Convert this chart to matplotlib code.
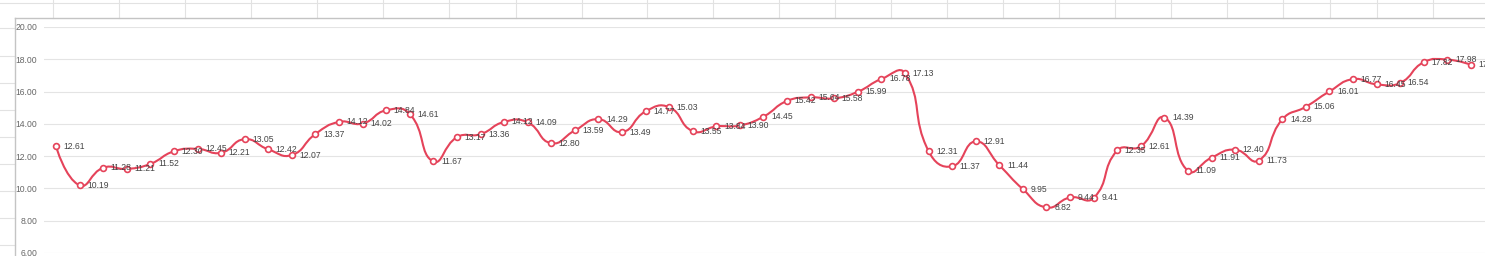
import numpy as np
import matplotlib
matplotlib.use("Agg")
import matplotlib.pyplot as plt
from matplotlib.path import Path
from matplotlib.patches import PathPatch
from matplotlib.lines import Line2D

# valores (o último ponto está cortado na borda direita)
valores = [12.61, 10.19, 11.28, 11.21, 11.52, 12.30, 12.45, 12.21, 13.05, 12.42,
           12.07, 13.37, 14.12, 14.02, 14.84, 14.61, 11.67, 13.17, 13.36, 14.12,
           14.09, 12.80, 13.59, 14.29, 13.49, 14.77, 15.03, 13.55, 13.84, 13.90,
           14.45, 15.42, 15.64, 15.58, 15.99, 16.78, 17.13, 12.31, 11.37, 12.91,
           11.44, 9.95, 8.82, 9.44, 9.41, 12.35, 12.61, 14.39, 11.09, 11.91,
           12.40, 11.73, 14.28, 15.06, 16.01, 16.77, 16.45, 16.54, 17.82, 17.98,
           17.66]
ticks_y = [6, 8, 10, 12, 14, 16, 18, 20]

W, H = 1485, 256
vermelho = "#e5435a"
plt.rcParams['font.family'] = ['Liberation Sans', 'DejaVu Sans']

fig = plt.figure(figsize=(W / 100, H / 100), dpi=100)
fig.patch.set_facecolor("white")

def px(x, y):
    # pixel (a partir do topo) -> fração da figura
    return x / W, 1 - y / H

# fundo de planilha
cinza = "#e2e2e2"
for xc in [53, 119, 185, 251, 317, 383, 449, 516, 582, 647, 713, 779, 835, 891,
           947, 1003, 1059, 1115, 1171, 1227, 1283, 1330, 1377, 1433]:
    x0, y0 = px(xc, 0)
    x1, y1 = px(xc, 18)
    fig.add_artist(Line2D([x0, x1], [y0, y1], color=cinza, lw=0.8))
fig.add_artist(Line2D([0, 1], [1 - 2.5 / H] * 2, color=cinza, lw=0.8))
for yr in [28, 56, 83, 110, 137, 164, 191, 218, 245]:
    fig.add_artist(Line2D([0, 15 / W], [1 - yr / H] * 2, color=cinza, lw=0.8))
# borda do gráfico
fig.add_artist(Line2D([15 / W, 1], [1 - 18 / H] * 2, color="#c4c4c4", lw=1.0))
fig.add_artist(Line2D([15 / W, 15 / W], [0, 1 - 18 / H], color="#c4c4c4", lw=1.0))

# área do gráfico
esq, topo, base = 44, 27, 253
ax = fig.add_axes([esq / W, 1 - base / H, (W - esq) / W, (base - topo) / H])
ax.set_facecolor("none")
n = len(valores)
passo = 23.58
ax.set_xlim(-12 / passo, (n - 1) + (W - 1471) / passo)
ax.set_ylim(6, 20)
for s in ax.spines.values():
    s.set_visible(False)
ax.set_xticks([])
ax.set_yticks(ticks_y)
ax.set_yticklabels(["%.2f" % t for t in ticks_y], fontsize=6.2, color="#666666")
ax.tick_params(axis="y", length=0, pad=5)
ax.grid(axis="y", color="#e4e4e4", lw=0.8)
ax.set_axisbelow(True)

# curva suavizada (estilo echarts, smooth = 0.5) calculada em pixels
xs = np.arange(n, dtype=float)
ys = np.array(valores)
sx = (W - esq) / (ax.get_xlim()[1] - ax.get_xlim()[0])
sy = (base - topo) / 14.0
P = np.column_stack([xs * sx, ys * sy])
suave = 0.5
cp_ant = P.copy()
cp_prox = P.copy()
for i in range(1, n - 1):
    v = P[i + 1] - P[i - 1]
    d0 = np.hypot(*(P[i] - P[i - 1]))
    d1 = np.hypot(*(P[i + 1] - P[i]))
    cp_ant[i] = P[i] - v * suave * d0 / (d0 + d1)
    cp_prox[i] = P[i] + v * suave * d1 / (d0 + d1)
verts = [P[0]]
codes = [Path.MOVETO]
for i in range(n - 1):
    verts += [cp_prox[i], cp_ant[i + 1], P[i + 1]]
    codes += [Path.CURVE4] * 3
verts = np.array(verts) / np.array([sx, sy])
ax.add_patch(PathPatch(Path(verts, codes), fill=False, edgecolor=vermelho, lw=1.5))

ax.plot(xs, ys, ls="none", marker="o", ms=4.2, mfc="white", mec=vermelho, mew=1.2,
        zorder=5, clip_on=False)
for x, y in zip(xs, ys):
    ax.annotate("%.2f" % y, (x, y), xytext=(5.5, 0), textcoords="offset points",
                ha="left", va="center", fontsize=6.2, color="#454545",
                annotation_clip=False, zorder=6)

fig.savefig("out.png", dpi=100)
